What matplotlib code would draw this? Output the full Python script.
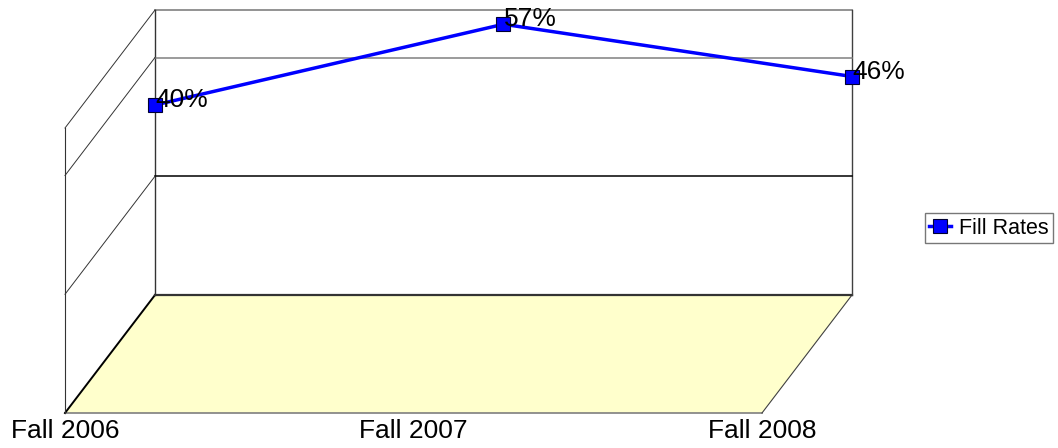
import matplotlib
matplotlib.use("Agg")
import matplotlib.pyplot as plt
from matplotlib.patches import Polygon
from matplotlib.lines import Line2D
from matplotlib.transforms import IdentityTransform, offset_copy

# data
categories = ["Fall 2006", "Fall 2007", "Fall 2008"]
fill_rates = [0.40, 0.57, 0.46]
grid_levels = [0.25, 0.50]
y_max = 0.60
series_name = "Fill Rates"

plt.rcParams['font.family'] = ['Liberation Sans', 'DejaVu Sans']

W, H = 1058, 448
DX, DY = -90, -118  # depth of the fake 3d box, pixels

fig = plt.figure(figsize=(W / 100, H / 100), dpi=100)
ax = fig.add_axes([155 / W, (H - 295) / H, 697 / W, 285 / H])
ax.set_xlim(0, len(categories) - 1)
ax.set_ylim(0, y_max)
ax.axis('off')
ax.set_zorder(2)

x_last = len(categories) - 1


def back(x, y):
    return ax.transData.transform((x, y))


def front(x, y):
    p = back(x, y)
    return (p[0] + DX, p[1] + DY)


def seg(p, q, color, lw):
    ax.add_line(Line2D([p[0], q[0]], [p[1], q[1]], color=color, lw=lw,
                       transform=IdentityTransform(), clip_on=False, zorder=1))


# floor
floor = Polygon([back(0, 0), back(x_last, 0), front(x_last, 0), front(0, 0)],
                closed=True, facecolor="#FFFFCC", edgecolor="none",
                transform=IdentityTransform(), clip_on=False, zorder=0.5)
ax.add_patch(floor)
seg(front(0, 0), front(x_last, 0), "#7f7f7f", 1.2)
seg(back(x_last, 0), front(x_last, 0), "#404040", 0.8)
seg(back(0, 0), front(0, 0), "black", 1.4)
seg(back(0, 0), back(x_last, 0), "#333333", 1.6)

# back wall
seg(back(0, y_max), back(x_last, y_max), "#808080", 1.2)
seg(back(0, 0), back(0, y_max), "#333333", 1.0)
seg(back(x_last, 0), back(x_last, y_max), "#404040", 1.0)
for i, g in enumerate(grid_levels):
    seg(back(0, g), back(x_last, g), "black" if i == 0 else "#808080", 1.1)

# side wall
seg(front(0, 0), front(0, y_max), "#333333", 0.8)
seg(back(0, y_max), front(0, y_max), "#333333", 0.7)
for g in grid_levels:
    seg(back(0, g), front(0, g), "#333333", 0.7)

# category labels on the front edge
lab_tr = offset_copy(ax.transData, fig=fig, x=DX, y=DY - 6, units='dots')
for i, c in enumerate(categories):
    ax.text(i, 0, c, transform=lab_tr, ha='center', va='top', fontsize=19,
            color='black', clip_on=False)

# series
xs = list(range(len(categories)))
ax.plot(xs, fill_rates, color='#0000FF', lw=2.5, marker='s', markersize=9.5,
        markerfacecolor='#0000FF', markeredgecolor='#000033', markeredgewidth=0.8,
        clip_on=False, zorder=3, label=series_name)
for x, v in zip(xs, fill_rates):
    ax.annotate(f"{v:.0%}", (x, v), xytext=(0, 5), textcoords='offset pixels',
                ha='left', va='center', fontsize=19, color='black', zorder=4,
                annotation_clip=False)

leg = fig.legend(loc='center left', bbox_to_anchor=(925 / W, (H - 228) / H),
                 fontsize=15.5, frameon=True, fancybox=False, borderpad=0.2,
                 handlelength=1.0, handletextpad=0.4, borderaxespad=0)
leg.get_frame().set_edgecolor('#555555')
leg.get_frame().set_linewidth(1.0)

fig.savefig("out.png", dpi=100)
